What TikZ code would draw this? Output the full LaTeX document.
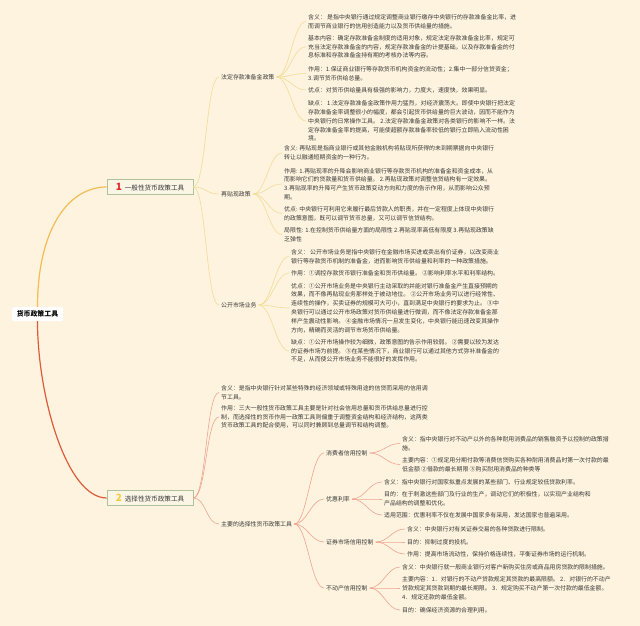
\documentclass[tikz,border=0pt]{standalone}
\usepackage{fontspec}
\setmainfont{Noto Sans CJK SC}
\definecolor{bg}{HTML}{FDF3DE}
\definecolor{txt}{HTML}{3A3A3A}
\definecolor{cA}{HTML}{F4BC55}
\definecolor{cAs}{HTML}{F3DC98}
\definecolor{cB}{HTML}{DC5B3A}
\definecolor{cBs}{HTML}{EFA594}
\definecolor{boxfill}{HTML}{FBF5E6}
\definecolor{boxline}{HTML}{AFC29C}
\definecolor{numA}{HTML}{E02B2B}
\definecolor{numB}{HTML}{F1CD3A}
\begin{document}
\begin{tikzpicture}[x=1pt,y=-1pt,
  leaf/.style={anchor=west, align=left, inner xsep=2pt, inner ysep=0.5pt, text=txt, font=\fontsize{5.9}{8.8}\selectfont},
  lab/.style={anchor=west, inner xsep=2pt, inner ysep=1pt, text=txt, font=\fontsize{5.9}{7}\selectfont},
  brbox/.style={draw=boxline, fill=boxfill, line width=0.6pt, minimum width=86pt, minimum height=15pt, inner sep=0pt, text=txt, font=\fontsize{6.6}{8}\selectfont},
  rootbox/.style={fill=white, rounded corners=2pt, minimum width=51pt, minimum height=14pt, inner sep=0pt, text=black, font=\fontsize{6.9}{8}\selectfont\bfseries},
  lkA/.style={draw=cAs, line width=0.6pt},
  lkB/.style={draw=cBs, line width=0.6pt}]
\fill[bg] (0,0) rectangle (640,626);
\useasboundingbox (0,0) rectangle (640,626);

% root and branches
\node[rootbox] (root) at (37.5,314) {货币政策工具};
\node[brbox] (b1) at (150,187) {{\fontsize{10}{10}\selectfont\bfseries\color{numA}1}\hspace{3pt}一般性货币政策工具};
\node[brbox] (b2) at (150,498) {{\fontsize{10}{10}\selectfont\bfseries\color{numB}2}\hspace{3pt}选择性货币政策工具};

\draw[cA, line width=1.2pt] (root.north) .. controls +(0,-75) and +(-40,0) .. (b1.west);
\draw[cB, line width=1.2pt] (root.south) .. controls +(0,75) and +(-40,0) .. (b2.west);

% branch 1 level labels
\node[lab] (fa) at (219,77) {法定存款准备金政策};
\node[lab] (zai) at (219,194) {再贴现政策};
\node[lab] (gk) at (219,305) {公开市场业务};

% fa leaves
\node[leaf] (fa1) at (306,21.5) {含义： 是指中央银行通过规定调整商业银行缴存中央银行的存款准备金比率，进\\而调节商业银行的信用创造能力以及货币供给量的措施。};
\node[leaf] (fa2) at (306,46.8) {基本内容：确定存款准备金制度的适用对象，规定法定存款准备金比率，规定可\\充当法定存款准备金的内容，规定存款准备金的计提基础，以及存款准备金的付\\息标准和存款准备金持有期的考核办法等内容。};
\node[leaf] (fa3) at (306,73.5) {作用：1.保证商业银行等存款货币机构资金的流动性；2.集中一部分信贷资金；\\3.调节货币供给总量。};
\node[leaf] (fa4) at (306,90) {优点：对货币供给量具有极强的影响力，力度大，速度快，效果明显。};
\node[leaf] (fa5) at (306,121) {缺点： 1.法定存款准备金政策作用力猛烈，对经济震荡大。即使中央银行把法定\\存款准备金率调整很小的幅度，都会引起货币供给量的巨大波动，因而不能作为\\中央银行的日常操作工具。 2.法定存款准备金政策对各类银行的影响不一样。法\\定存款准备金率的提高，可能使超额存款准备率较低的银行立即陷入流动性困\\境。};

% zai leaves
\node[leaf] (zai1) at (282,153) {含义: 再贴现是指商业银行或其他金融机构将贴现所获得的未到期票据向中央银行\\转让以融通短期资金的一种行为。};
\node[leaf] (zai2) at (282,184) {作用: 1.再贴现率的升降会影响商业银行等存款货币机构的准备金和资金成本，从\\而影响它们的贷款量和货币供给量。 2.再贴现政策对调整信贷结构有一定效果。\\3.再贴现率的升降可产生货币政策变动方向和力度的告示作用，从而影响公众预\\期。};
\node[leaf] (zai3) at (282,213.5) {优点: 中央银行可利用它来履行最后贷款人的职责，并在一定程度上体现中央银行\\的政策意图，既可以调节货币总量，又可以调节信贷结构。};
\node[leaf] (zai4) at (282,234.5) {局限性: 1.在控制货币供给量方面的局限性 2.再贴现率高低有限度 3.再贴现政策缺\\乏弹性};

% gk leaves
\node[leaf] (gk1) at (289,256.5) {含义： 公开市场业务是指中央银行在金融市场买进或卖出有价证券，以改变商业\\银行等存款货币机制的准备金，进而影响货币供给量和利率的一种政策措施。};
\node[leaf] (gk2) at (289,273) {作用：①调控存款货币银行准备金和货币供给量。 ②影响利率水平和利率结构。};
\node[leaf] (gk3) at (289,308) {优点：①公开市场业务是中央银行主动采取的并能对银行准备金产生直接预期的\\效果，而不像再贴现业务那样处于被动地位。 ②公开市场业务可以进行经常性、\\连续性的操作，买卖证券的规模可大可小，直到满足中央银行的要求为止。 ③中\\央银行可以通过公开市场政策对货币供给量进行微调，而不像法定存款准备金那\\样产生震动性影响。 ④金融市场情况一旦发生变化，中央银行能迅速改变其操作\\方向，精确而灵活的调节市场货币供给量。};
\node[leaf] (gk4) at (289,351) {缺点：①公开市场操作较为细微，政策意图的告示作用较弱。 ②需要以较为发达\\的证券市场为前提。 ③在某些情况下，商业银行可以通过其他方式弥补准备金的\\不足，从而使公开市场业务不能很好的发挥作用。};

% branch 2
\node[leaf] (b2a) at (219,392.5) {含义：是指中央银行针对某些特殊的经济领域或特殊用途的信贷而采用的信用调\\节工具。};
\node[leaf] (b2b) at (219,417) {作用：三大一般性货币政策工具主要是针对社会信用总量和货币供给总量进行控\\制，而选择性的货币作用一政策工具则偏重于调整资金结构和经济结构，这两类\\货币政策工具的配合使用，可以同时兼顾到总量调节和结构调整。};
\node[lab] (zy) at (219,524) {主要的选择性货币政策工具};

\node[lab] (xf) at (324,453) {消费者信用控制};
\node[lab] (yh) at (324,499) {优惠利率};
\node[lab] (zq) at (324,542) {证券市场信用控制};
\node[lab] (bd) at (324,588) {不动产信用控制};

\node[leaf] (xf1) at (400,443.5) {含义：指中央银行对不动产以外的各种耐用消费品的销售融资予以控制的政策措\\施。};
\node[leaf] (xf2) at (400,464.5) {主要内容：①规定用分期付款等消费信贷购买各种耐用消费品时第一次付款的最\\低金额 ②借款的最长期限 ③购买耐用消费品的种类等};
\node[leaf] (yh1) at (382,482) {含义：指中央银行对国家拟重点发展的某些部门、行业规定较低贷款利率。};
\node[leaf] (yh2) at (382,499) {目的：在于刺激这些部门及行业的生产，调动它们的积极性，以实现产业结构和\\产品结构的调整和优化。};
\node[leaf] (yh3) at (382,515) {适用范围：优惠利率不仅在发展中国家多有采用，发达国家也普遍采用。};
\node[leaf] (zq1) at (405,529) {含义：中央银行对有关证券交易的各种贷款进行限制。};
\node[leaf] (zq2) at (405,542) {目的：抑制过度的投机。};
\node[leaf] (zq3) at (405,554) {作用：提高市场流动性，保持价格连续性，平衡证券市场的运行机制。};
\node[leaf] (bd1) at (400,567) {含义：中央银行就一般商业银行对客户新购买住房或商品用房贷款的限制措施。};
\node[leaf] (bd2) at (400,588) {主要内容：1．对银行的不动产贷款规定其贷款的最高限额。 2．对银行的不动产\\贷款规定其贷款到期的最长期限。 3．规定购买不动产第一次付款的最低金额。\\4．规定还款的最低金额。};
\node[leaf] (bd3) at (400,610) {目的：确保经济资源的合理利用。};

% connectors
\foreach \c in {fa,zai,gk} \draw[lkA] (b1.east) .. controls +(13,0) and +(-13,0) .. (\c.west);
\foreach \c in {fa1,fa2,fa3,fa4,fa5} \draw[lkA] (fa.east) .. controls +(13,0) and +(-13,0) .. (\c.west);
\foreach \c in {zai1,zai2,zai3,zai4} \draw[lkA] (zai.east) .. controls +(13,0) and +(-13,0) .. (\c.west);
\foreach \c in {gk1,gk2,gk3,gk4} \draw[lkA] (gk.east) .. controls +(13,0) and +(-13,0) .. (\c.west);

\foreach \c in {b2a,b2b,zy} \draw[lkB] (b2.east) .. controls +(13,0) and +(-13,0) .. (\c.west);
\foreach \c in {xf,yh,zq,bd} \draw[lkB] (zy.east) .. controls +(13,0) and +(-13,0) .. (\c.west);
\foreach \c in {xf1,xf2} \draw[lkB] (xf.east) .. controls +(13,0) and +(-13,0) .. (\c.west);
\foreach \c in {yh1,yh2,yh3} \draw[lkB] (yh.east) .. controls +(13,0) and +(-13,0) .. (\c.west);
\foreach \c in {zq1,zq2,zq3} \draw[lkB] (zq.east) .. controls +(13,0) and +(-13,0) .. (\c.west);
\foreach \c in {bd1,bd2,bd3} \draw[lkB] (bd.east) .. controls +(13,0) and +(-13,0) .. (\c.west);
\end{tikzpicture}
\end{document}
